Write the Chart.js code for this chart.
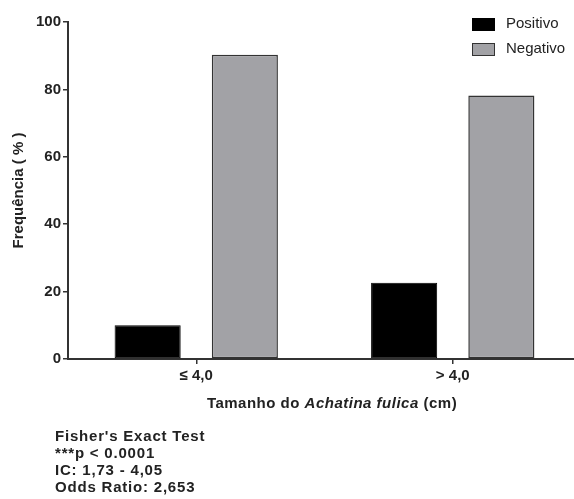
<!DOCTYPE html>
<html>
<head>
<meta charset="utf-8">
<script src="https://cdn.jsdelivr.net/npm/chart.js@4/dist/chart.umd.min.js"></script>
<style>
  html, body { margin: 0; padding: 0; background: #fff; overflow: hidden; }
  #wrap { width: 574px; height: 499px; position: relative; overflow: hidden; }
  #c { display: block; }
</style>
</head>
<body>
<div id="wrap"><canvas id="c" width="581" height="499"></canvas></div>
<script>
// Shell-size classes and infection frequency (%)
const categories = ['≤ 4,0', '> 4,0'];
const positivo = [10, 22.6];
const negativo = [90.3, 78.2];
const seriesNames = ['Positivo', 'Negativo'];
const yMin = 0, yMax = 100, yStep = 20;

// Statistics note under the chart
const statsLines = ["Fisher's Exact Test", '***p < 0.0001', 'IC: 1,73 - 4,05', 'Odds Ratio: 2,653'];

// X axis title pieces: [text, italic?]
const xTitleParts = [['Tamanho do ', false], ['Achatina fulica', true], [' (cm)', false]];

const FONT = 'Arial, "Liberation Sans", Helvetica, sans-serif';
const INK = '#222';

const legendBox = {
  id: 'legendBox',
  afterDraw(chart) {
    const ctx = chart.ctx;
    ctx.save();
    ctx.font = '15px ' + FONT;
    ctx.textBaseline = 'middle';
    chart.data.datasets.forEach((ds, i) => {
      const y = 24 + i * 25;
      ctx.fillStyle = ds.backgroundColor;
      ctx.fillRect(472, y - 6, 23, 13);
      ctx.strokeStyle = ds.borderColor;
      ctx.lineWidth = 1;
      ctx.strokeRect(472.5, y - 5.5, 22, 12);
      ctx.fillStyle = INK;
      ctx.fillText(ds.label, 506, y);
    });
    ctx.restore();
  }
};

const xTitle = {
  id: 'xTitle',
  afterDraw(chart) {
    const ctx = chart.ctx;
    ctx.save();
    ctx.textBaseline = 'middle';
    ctx.fillStyle = INK;
    if ('letterSpacing' in ctx) ctx.letterSpacing = '0.5px';
    const fonts = xTitleParts.map(p => (p[1] ? 'italic ' : '') + 'bold 15px ' + FONT);
    let total = 0;
    const widths = xTitleParts.map((p, i) => { ctx.font = fonts[i]; const w = ctx.measureText(p[0]).width; total += w; return w; });
    let x = 332 - total / 2;
    xTitleParts.forEach((p, i) => {
      ctx.font = fonts[i];
      ctx.fillText(p[0], x, 404);
      x += widths[i];
    });
    ctx.restore();
  }
};

const statsNote = {
  id: 'statsNote',
  afterDraw(chart) {
    const ctx = chart.ctx;
    ctx.save();
    ctx.font = 'bold 15px ' + FONT;
    ctx.textBaseline = 'middle';
    ctx.fillStyle = INK;
    if ('letterSpacing' in ctx) ctx.letterSpacing = '0.8px';
    statsLines.forEach((t, i) => ctx.fillText(t, 55, 437 + i * 17));
    ctx.restore();
  }
};

new Chart(document.getElementById('c'), {
  type: 'bar',
  data: {
    labels: categories,
    datasets: [
      { label: seriesNames[0], data: positivo, backgroundColor: '#000000', borderColor: '#000000', borderWidth: 1 },
      { label: seriesNames[1], data: negativo, backgroundColor: '#a2a2a6', borderColor: '#333333', borderWidth: 1.5 }
    ]
  },
  options: {
    responsive: false,
    animation: false,
    devicePixelRatio: 1,
    layout: { padding: { top: 22, left: 0, right: 0, bottom: 0 } },
    datasets: { bar: { categoryPercentage: 0.758, barPercentage: 0.68, borderSkipped: false } },
    plugins: {
      legend: { display: false },
      tooltip: { enabled: false }
    },
    scales: {
      x: {
        offset: true,
        grid: { offset: false, drawOnChartArea: false, drawTicks: true, tickLength: 5, color: '#333', lineWidth: 1.5 },
        border: { color: '#333', width: 2 },
        ticks: { color: INK, font: { family: FONT, size: 15, weight: 'bold' }, padding: 3, maxRotation: 0 },
        afterFit(scale) { scale.height = 140; }
      },
      y: {
        min: yMin, max: yMax,
        grid: { drawOnChartArea: false, drawTicks: true, tickLength: 5, color: '#333', lineWidth: 1.5 },
        border: { color: '#333', width: 2 },
        ticks: { stepSize: yStep, color: INK, font: { family: FONT, size: 15, weight: 'bold' }, padding: 2 },
        title: { display: true, text: 'Frequência ( % )', color: INK, font: { family: FONT, size: 15, weight: 'bold' }, padding: { top: 10, bottom: 0 } },
        afterFit(scale) { scale.width = 68; }
      }
    }
  },
  plugins: [legendBox, xTitle, statsNote]
});
</script>
</body>
</html>
